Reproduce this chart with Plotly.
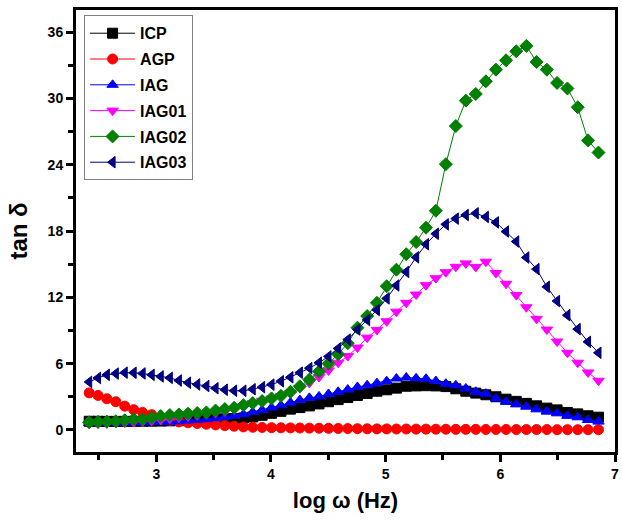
import plotly.graph_objects as go

# log(omega) grid shared by all samples
log_w = [2.415, 2.492, 2.569, 2.647, 2.725, 2.803, 2.881, 2.960, 3.039, 3.118,
         3.197, 3.277, 3.357, 3.437, 3.517, 3.598, 3.679, 3.760, 3.841, 3.923,
         4.005, 4.087, 4.170, 4.252, 4.335, 4.419, 4.502, 4.586, 4.670, 4.754,
         4.839, 4.924, 5.009, 5.094, 5.180, 5.266, 5.352, 5.438, 5.525, 5.612,
         5.699, 5.786, 5.874, 5.962, 6.050, 6.139, 6.227, 6.316, 6.406, 6.495,
         6.585, 6.675, 6.765, 6.856]

ICP = [0.78, 0.78, 0.77, 0.77, 0.77, 0.77, 0.78, 0.79, 0.80, 0.82,
       0.84, 0.87, 0.90, 0.93, 0.97, 1.00, 1.03, 1.08, 1.17, 1.32,
       1.50, 1.68, 1.88, 2.02, 2.17, 2.35, 2.55, 2.74, 2.93, 3.11,
       3.30, 3.50, 3.63, 3.78, 3.95, 3.98, 4.00, 3.98, 3.92, 3.72,
       3.50, 3.33, 3.18, 3.00, 2.78, 2.58, 2.40, 2.18, 1.97, 1.81,
       1.58, 1.45, 1.28, 1.15]

AGP = [3.35, 3.12, 2.82, 2.55, 2.15, 1.83, 1.58, 1.38, 1.12, 0.88,
       0.72, 0.65, 0.58, 0.51, 0.45, 0.39, 0.33, 0.27, 0.24, 0.22,
       0.20, 0.19, 0.18, 0.17, 0.16, 0.15, 0.14, 0.13, 0.12, 0.11,
       0.10, 0.09, 0.09, 0.08, 0.08, 0.07, 0.07, 0.06, 0.06, 0.05,
       0.05, 0.05, 0.04, 0.04, 0.04, 0.03, 0.03, 0.03, 0.03, 0.02,
       0.02, 0.02, 0.02, 0.02]

IAG = [0.62, 0.63, 0.64, 0.65, 0.66, 0.67, 0.68, 0.70, 0.72, 0.74,
       0.78, 0.85, 0.91, 0.97, 1.06, 1.20, 1.29, 1.42, 1.62, 1.80,
       2.02, 2.22, 2.48, 2.70, 2.90, 3.03, 3.25, 3.45, 3.65, 3.88,
       4.04, 4.23, 4.41, 4.65, 4.74, 4.67, 4.63, 4.42, 4.18, 4.04,
       3.75, 3.45, 3.28, 2.85, 2.55, 2.31, 2.10, 1.86, 1.65, 1.50,
       1.27, 1.14, 0.90, 0.75]

IAG01 = [0.55, 0.57, 0.59, 0.62, 0.66, 0.70, 0.75, 0.82, 0.92, 1.02,
         1.12, 1.22, 1.32, 1.42, 1.54, 1.68, 1.85, 2.15, 2.42, 2.63,
         2.84, 3.04, 3.33, 3.78, 4.25, 4.78, 5.38, 6.08, 6.68, 7.45,
         8.35, 9.05, 9.83, 10.70, 11.50, 12.25, 13.10, 13.73, 14.27, 14.76,
         15.07, 14.75, 15.22, 14.20, 13.22, 12.20, 11.10, 10.05, 9.08, 8.00,
         6.98, 6.08, 5.20, 4.45]

IAG02 = [0.69, 0.73, 0.75, 0.78, 0.87, 0.96, 0.97, 1.11, 1.25, 1.34,
         1.40, 1.47, 1.53, 1.58, 1.75, 1.89, 2.00, 2.24, 2.43, 2.61,
         2.85, 3.08, 3.45, 3.95, 4.55, 5.30, 6.00, 6.85, 7.85, 9.25,
         10.30, 11.50, 13.00, 14.50, 15.90, 17.00, 18.30, 19.83, 24.05, 27.50,
         29.80, 30.40, 31.55, 32.60, 33.45, 34.27, 34.75, 33.30, 32.60, 31.40,
         30.90, 29.20, 26.20, 25.10]

IAG03 = [4.34, 4.70, 4.98, 5.10, 5.18, 5.17, 5.11, 4.98, 4.84, 4.71,
         4.47, 4.27, 4.11, 3.97, 3.77, 3.63, 3.54, 3.54, 3.68, 3.87,
         4.10, 4.40, 4.76, 5.18, 5.59, 6.08, 6.65, 7.37, 8.17, 9.09,
         9.95, 10.85, 11.90, 13.07, 14.30, 15.62, 16.80, 17.75, 18.60, 19.12,
         19.45, 19.60, 19.27, 18.78, 17.95, 17.05, 15.60, 14.55, 12.95, 11.66,
         10.38, 9.12, 7.97, 6.98]

series = [
    ("ICP", ICP, "#000000", "square"),
    ("AGP", AGP, "#FF0000", "circle"),
    ("IAG", IAG, "#0000FF", "triangle-up"),
    ("IAG01", IAG01, "#FF00FF", "triangle-down"),
    ("IAG02", IAG02, "#008000", "diamond"),
    ("IAG03", IAG03, "#000080", "triangle-left"),
]

FONT = "Liberation Sans, Arial, sans-serif"

fig = go.Figure()
for name, vals, color, sym in series:
    fig.add_trace(go.Scatter(
        x=log_w, y=vals, name=name, mode="lines+markers",
        legendgroup=name,
        line=dict(color=color, width=1),
        marker=dict(symbol=sym, size=10, color=color,
                    line=dict(color=color, width=1)),
    ))

fig.update_layout(
    width=622, height=524,
    paper_bgcolor="white", plot_bgcolor="white",
    margin=dict(l=76, r=4, t=10, b=72),
    showlegend=True,
    legend=dict(
        x=0.015, y=0.988, xanchor="left", yanchor="top",
        bordercolor="#808080", borderwidth=1, bgcolor="white",
        font=dict(family=FONT, size=16, color="black", weight="bold"),
        tracegroupgap=2, itemwidth=45,
    ),
    font=dict(family=FONT, color="black"),
)

fig.update_xaxes(
    range=[2.30, 7.0], dtick=1, tick0=3,
    showline=True, linecolor="black", linewidth=3, mirror=True,
    ticks="outside", ticklen=7, tickwidth=2.5, tickcolor="black",
    minor=dict(ticks="outside", ticklen=5, tickwidth=2.5, tickcolor="black", dtick=0.5),
    showgrid=False, zeroline=False,
    tickfont=dict(family=FONT, size=14, color="black", weight="bold"),
    title=dict(text="log ω (Hz)", standoff=12,
               font=dict(family=FONT, size=22, color="black", weight="bold")),
)
fig.update_yaxes(
    range=[-2.0, 38.0], dtick=6, tick0=0,
    showline=True, linecolor="black", linewidth=3, mirror=True,
    ticks="outside", ticklen=7, tickwidth=2.5, tickcolor="black",
    minor=dict(ticks="outside", ticklen=5, tickwidth=2.5, tickcolor="black", dtick=3),
    showgrid=False, zeroline=False,
    tickfont=dict(family=FONT, size=14, color="black", weight="bold"),
    title=dict(text="tan δ", standoff=14,
               font=dict(family=FONT, size=24, color="black", weight="bold")),
)

fig.write_html("out.html")
